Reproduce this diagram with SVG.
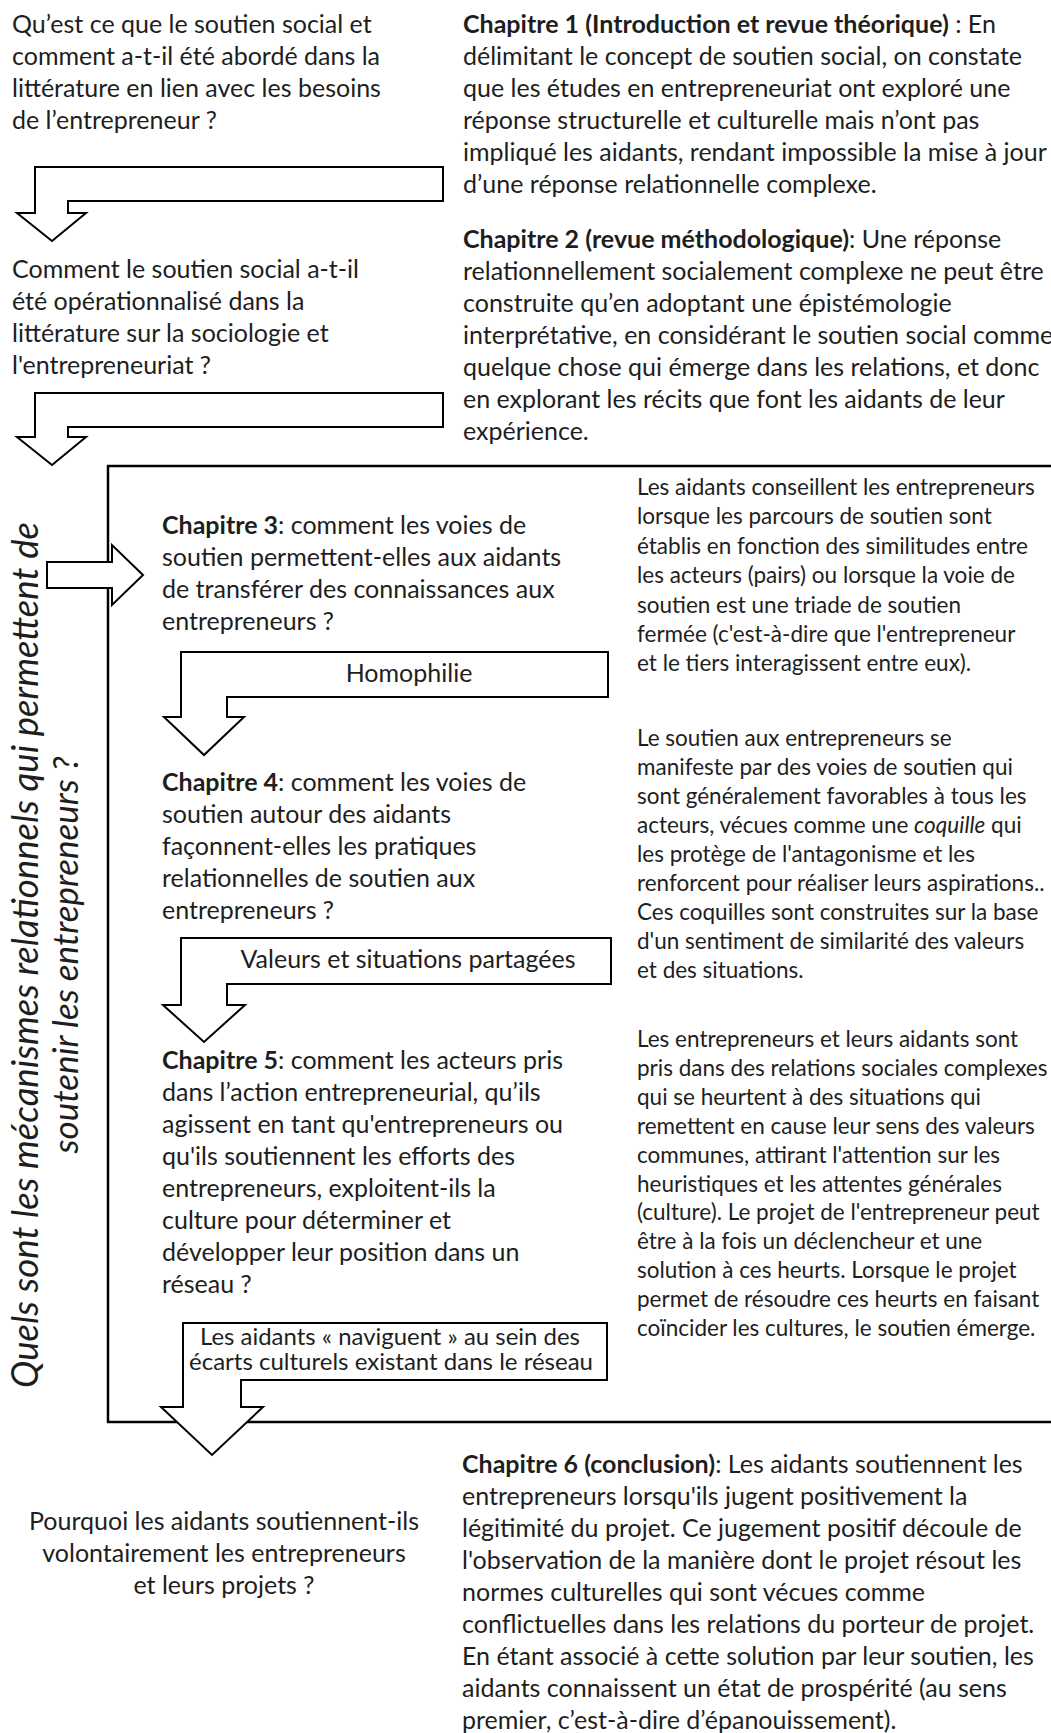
<svg xmlns="http://www.w3.org/2000/svg" width="1051" height="1733" viewBox="0 0 1051 1733">
<style>
.t{font-family:Lato,"Liberation Sans",sans-serif;font-size:25px;fill:#1e1e1e}
.s{font-size:22.5px}
.l{font-size:22.5px}
.b{font-weight:bold}
.i{font-style:italic}
.c{text-anchor:middle}
.v{font-family:Lato,"Liberation Sans",sans-serif;font-size:35px;font-style:italic;fill:#1e1e1e;text-anchor:middle}
.ar{fill:#fff;stroke:#000;stroke-width:2;stroke-linejoin:miter}
.fr{fill:none;stroke:#000;stroke-width:2.5}
</style>
<rect width="1051" height="1733" fill="#fff"/>
<g id="frame"><rect class="fr" x="108" y="466" width="990" height="956"/></g>
<g id="connectors">
<path class="ar" d="M443,167 H35 V213 H17 L52,241 L86,213 H68 V201 H443 Z"/>
<path class="ar" d="M443,393 H35 V437 H17 L52,465 L86,437 H68 V427 H443 Z"/>
<path class="ar" d="M47,562 H112 V545 L143,575 L112,605 V588 H47 Z"/>
<path class="ar" d="M608,652 H181 V717 H164 L204,755 L244,717 H227 V697 H608 Z"/>
<path class="ar" d="M611,938 H181 V1005 H163 L204,1042 L245,1005 H227 V984 H611 Z"/>
<path class="ar" d="M607,1323 H183 V1407 H161 L212,1455 L263,1407 H241 V1380 H607 Z"/>
<text class="t c" x="409" y="682">Homophilie</text>
<text class="t c" x="408" y="968">Valeurs et situations partagées</text>
<text class="t l c" x="390" y="1345" textLength="380" lengthAdjust="spacingAndGlyphs">Les aidants « naviguent » au sein des</text>
<text class="t l c" x="391" y="1370" textLength="404" lengthAdjust="spacingAndGlyphs">écarts culturels existant dans le réseau</text>
</g>
<g id="q1" class="t">
<text x="12" y="33">Qu’est ce que le soutien social et</text>
<text x="12" y="65">comment a-t-il été abordé dans la</text>
<text x="12" y="97">littérature en lien avec les besoins</text>
<text x="12" y="129">de l’entrepreneur  ?</text>
</g>
<g id="ch1" class="t">
<text x="463" y="33"><tspan class="b">Chapitre 1 (Introduction et revue théorique)</tspan> : En</text>
<text x="463" y="65">délimitant le concept de soutien social, on constate</text>
<text x="463" y="97">que les études en entrepreneuriat ont exploré une</text>
<text x="463" y="129">réponse structurelle et culturelle mais n’ont pas</text>
<text x="463" y="161">impliqué les aidants, rendant impossible la mise à jour</text>
<text x="463" y="193">d’une réponse relationnelle complexe.</text>
</g>
<g id="q2" class="t">
<text x="12" y="278">Comment le soutien social a-t-il</text>
<text x="12" y="310">été opérationnalisé dans la</text>
<text x="12" y="342">littérature sur la sociologie et</text>
<text x="12" y="374">l'entrepreneuriat ?</text>
</g>
<g id="ch2" class="t">
<text x="463" y="248"><tspan class="b">Chapitre 2 (revue méthodologique)</tspan>: Une réponse</text>
<text x="463" y="280">relationnellement socialement complexe ne peut être</text>
<text x="463" y="312">construite qu’en adoptant une épistémologie</text>
<text x="463" y="344">interprétative, en considérant le soutien social comme</text>
<text x="463" y="376">quelque chose qui émerge dans les relations, et donc</text>
<text x="463" y="408">en explorant les récits que font les aidants de leur</text>
<text x="463" y="440">expérience.</text>
</g>
<g id="main-question">
<text class="v" style="font-size:36.5px" transform="translate(38,955) rotate(-90)" textLength="866">Quels sont les mécanismes relationnels qui permettent de</text>
<text class="v" transform="translate(78,955) rotate(-90)">soutenir les entrepreneurs ?</text>
</g>
<g id="ch3" class="t">
<text x="162" y="534"><tspan class="b">Chapitre 3</tspan>: comment les voies de</text>
<text x="162" y="566">soutien permettent-elles aux aidants</text>
<text x="162" y="598">de transférer  des connaissances aux</text>
<text x="162" y="630">entrepreneurs  ?</text>
</g>
<g id="ch4" class="t">
<text x="162" y="791"><tspan class="b">Chapitre 4</tspan>: comment les voies de</text>
<text x="162" y="823">soutien autour des aidants</text>
<text x="162" y="855">façonnent-elles les pratiques</text>
<text x="162" y="887">relationnelles de soutien aux</text>
<text x="162" y="919">entrepreneurs  ?</text>
</g>
<g id="ch5" class="t">
<text x="162" y="1069"><tspan class="b">Chapitre 5</tspan>: comment les acteurs pris</text>
<text x="162" y="1101">dans l’action entrepreneurial,  qu’ils</text>
<text x="162" y="1133">agissent en tant qu'entrepreneurs  ou</text>
<text x="162" y="1165">qu'ils soutiennent les efforts des</text>
<text x="162" y="1197">entrepreneurs,  exploitent-ils la</text>
<text x="162" y="1229">culture pour déterminer et</text>
<text x="162" y="1261">développer  leur position dans un</text>
<text x="162" y="1293">réseau  ?</text>
</g>
<g id="finding3" class="t s">
<text x="637" y="495">Les aidants conseillent  les entrepreneurs</text>
<text x="637" y="524">lorsque les  parcours de soutien sont</text>
<text x="637" y="554">établis en fonction des similitudes entre</text>
<text x="637" y="583">les acteurs (pairs) ou lorsque la voie de</text>
<text x="637" y="613">soutien est une triade de soutien</text>
<text x="637" y="642">fermée  (c'est-à-dire que l'entrepreneur</text>
<text x="637" y="671">et le tiers interagissent entre eux).</text>
</g>
<g id="finding4" class="t s">
<text x="637" y="746">Le soutien aux entrepreneurs se</text>
<text x="637" y="775">manifeste par des voies de soutien qui</text>
<text x="637" y="804">sont généralement  favorables à tous les</text>
<text x="637" y="833">acteurs, vécues comme une <tspan class="i">coquille</tspan> qui</text>
<text x="637" y="862">les protège de l'antagonisme et les</text>
<text x="637" y="891">renforcent pour réaliser leurs aspirations..</text>
<text x="637" y="920">Ces coquilles sont construites sur la base</text>
<text x="637" y="949">d'un sentiment de similarité  des valeurs</text>
<text x="637" y="978">et des situations.</text>
</g>
<g id="finding5" class="t s">
<text x="637" y="1047">Les entrepreneurs et leurs aidants sont</text>
<text x="637" y="1076">pris dans des relations sociales complexes</text>
<text x="637" y="1105">qui se heurtent à des situations qui</text>
<text x="637" y="1134">remettent  en cause leur  sens des valeurs</text>
<text x="637" y="1163">communes, attirant l'attention  sur les</text>
<text x="637" y="1192">heuristiques et les attentes générales</text>
<text x="637" y="1220">(culture). Le projet de l'entrepreneur peut</text>
<text x="637" y="1249">être à la fois un déclencheur et une</text>
<text x="637" y="1278">solution à ces heurts. Lorsque le projet</text>
<text x="637" y="1307">permet de résoudre ces heurts en faisant</text>
<text x="637" y="1336">coïncider les cultures, le soutien émerge.</text>
</g>
<g id="q-final" class="t c">
<text x="224" y="1530">Pourquoi les aidants soutiennent-ils</text>
<text x="224" y="1562">volontairement les entrepreneurs</text>
<text x="224" y="1594">et leurs projets ?</text>
</g>
<g id="ch6" class="t">
<text x="462" y="1473"><tspan class="b">Chapitre 6 (conclusion)</tspan>: Les aidants soutiennent les</text>
<text x="462" y="1505">entrepreneurs  lorsqu'ils jugent positivement la</text>
<text x="462" y="1537">légitimité du projet. Ce jugement positif découle de</text>
<text x="462" y="1569">l'observation de la manière dont le projet résout  les</text>
<text x="462" y="1601">normes culturelles qui sont vécues comme</text>
<text x="462" y="1633">conflictuelles dans les relations du porteur de projet.</text>
<text x="462" y="1665">En étant associé à cette solution par leur soutien, les</text>
<text x="462" y="1697">aidants connaissent un état de prospérité (au sens</text>
<text x="462" y="1729">premier, c’est-à-dire d’épanouissement).</text>
</g>
</svg>
